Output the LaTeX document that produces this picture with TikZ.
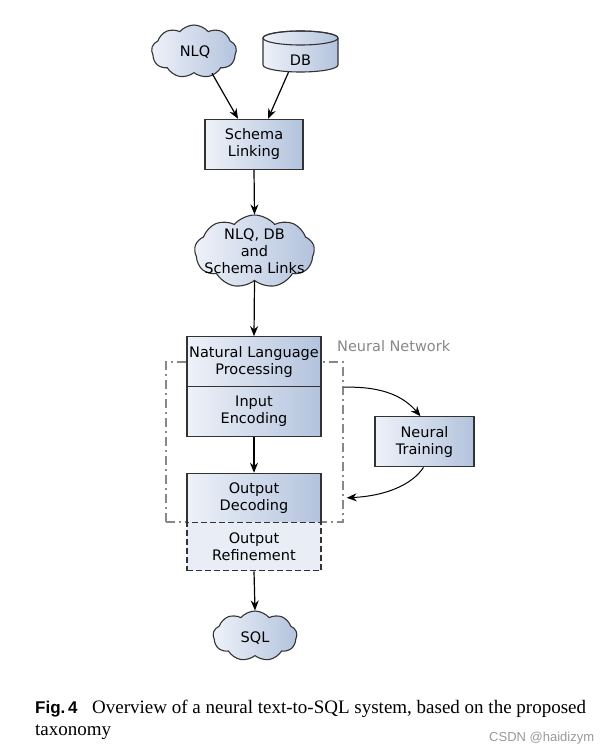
\documentclass[tikz,border=0pt]{standalone}
\usepackage{fontspec}
\setmainfont{DejaVu Sans}
\newfontfamily\capserif{Liberation Serif}
\newfontfamily\capsans{Liberation Sans}
\usetikzlibrary{shapes.symbols,arrows.meta}
\definecolor{lightb}{HTML}{EEF2F9}
\definecolor{darkb}{HTML}{B3C3DD}
\definecolor{refb}{HTML}{E8EDF6}
\definecolor{bord}{HTML}{333333}
\definecolor{nngray}{HTML}{888888}
\definecolor{wmgray}{HTML}{9A9A9A}
\newcommand\diagfont{\fontsize{14.5}{17}\selectfont}
\tikzset{
  box/.style={draw=bord, line width=1.1pt, left color=lightb, right color=darkb,
    align=center, font=\diagfont, inner sep=0pt},
  cloudnode/.style={cloud, cloud puffs=9, cloud puff arc=100, draw=bord,
    line width=1.1pt, left color=lightb, right color=darkb, inner sep=0pt},
  arr/.style={-{Stealth[length=10pt,width=8pt]}, line width=1.2pt, black},
  carr/.style={-{Stealth[length=10pt,width=8pt]}, line width=1pt, black},
  lbl/.style={align=center, font=\diagfont, inner sep=0pt},
}
\begin{document}
\begin{tikzpicture}[x=1pt,y=-1pt]
\useasboundingbox[fill=white] (0,0) rectangle (608,750);

% NLQ cloud
\node[cloudnode, minimum width=85, minimum height=53] (nlq) at (194,51.5) {};
\node[lbl] at (195,52) {NLQ};

% DB cylinder
\path[left color=lightb, right color=darkb, draw=bord, line width=1.1pt]
  (263,38) -- (263,65) arc[start angle=180,end angle=0,x radius=37.5,y radius=7]
  -- (338,38) arc[start angle=0,end angle=-180,x radius=37.5,y radius=7] -- cycle;
\draw[bord, line width=1.1pt] (300.5,38) ellipse[x radius=37.5,y radius=7];
\node[minimum width=75, minimum height=40, inner sep=0pt] (db) at (300.5,52) {};
\node[lbl] at (300.5,60) {DB};

% Schema linking
\node[box, minimum width=98, minimum height=50] (sl) at (254,144.3) {Schema\\Linking};

% cloud 2
\node[cloudnode, minimum width=120, minimum height=73] (c2) at (254.5,251.5) {};
\node[lbl] at (254.5,251.5) {NLQ, DB\\and\\Schema Links};

% neural network frame
\node[draw=nngray, line width=2pt, dash pattern=on 9pt off 4pt on 2pt off 4pt,
  minimum width=177, minimum height=160, inner sep=0pt] (nn) at (254.2,442.3) {};
\node[text=nngray, font=\diagfont, anchor=west, inner sep=0pt] (nnl) at (337,346) {Neural Network};

% stacked boxes
\node[box, minimum width=134, minimum height=50] (nlp) at (254,361.7) {Natural Language\\Processing};
\node[box, minimum width=134, minimum height=49.5] (ie) at (254,411.3) {Input\\Encoding};
\node[box, minimum width=134, minimum height=49] (od) at (254,497.8) {Output\\Decoding};
\node[draw=bord, line width=1.1pt, dash pattern=on 6pt off 3pt, fill=refb,
  align=center, font=\diagfont, inner sep=0pt, minimum width=134, minimum height=48.5]
  (ref) at (254,546.5) {Output\\Refinement};

% neural training
\node[box, minimum width=99, minimum height=50] (nt) at (424.5,441.8) {Neural\\Training};

% SQL cloud
\node[cloudnode, minimum width=84, minimum height=50] (sql) at (255,636) {};
\node[lbl] at (255,638) {SQL};

% arrows
\draw[arr] ([xshift=18pt]nlq.south) -- ([xshift=-16pt]sl.north);
\draw[arr] ([xshift=-12pt]db.south) -- ([xshift=14pt]sl.north);
\draw[arr] (sl.south) -- (c2.north);
\draw[arr] (c2.south) -- (nlp.north);
\draw[arr] (ie.south) -- (od.north);
\draw[arr] (ref.south) -- (sql.north);
\coordinate (nnout) at (nn.east |- nlp.south);
\coordinate (nnin) at (nn.east |- od.center);
\draw[carr] (nnout) .. controls (385,386) and (405,398) .. ([xshift=-4pt]nt.north);
\draw[carr] ([xshift=-1pt]nt.south) .. controls (412,485) and (385,496) .. ([xshift=3pt]nnin);

% caption
\node[anchor=base west, inner sep=0pt, font=\capsans\bfseries\fontsize{17}{20}\selectfont] at (35,713) {Fig.\,4};
\node[anchor=base west, inner sep=0pt, font=\capserif\fontsize{19}{22}\selectfont] at (92,713) {Overview of a neural text-to-SQL system, based on the proposed};
\node[anchor=base west, inner sep=0pt, font=\capserif\fontsize{19}{22}\selectfont] at (35,735) {taxonomy};
\node[anchor=base west, inner sep=0pt, text=wmgray, font=\capsans\fontsize{13}{15}\selectfont] at (489,741) {CSDN @haidizym};
\end{tikzpicture}
\end{document}
